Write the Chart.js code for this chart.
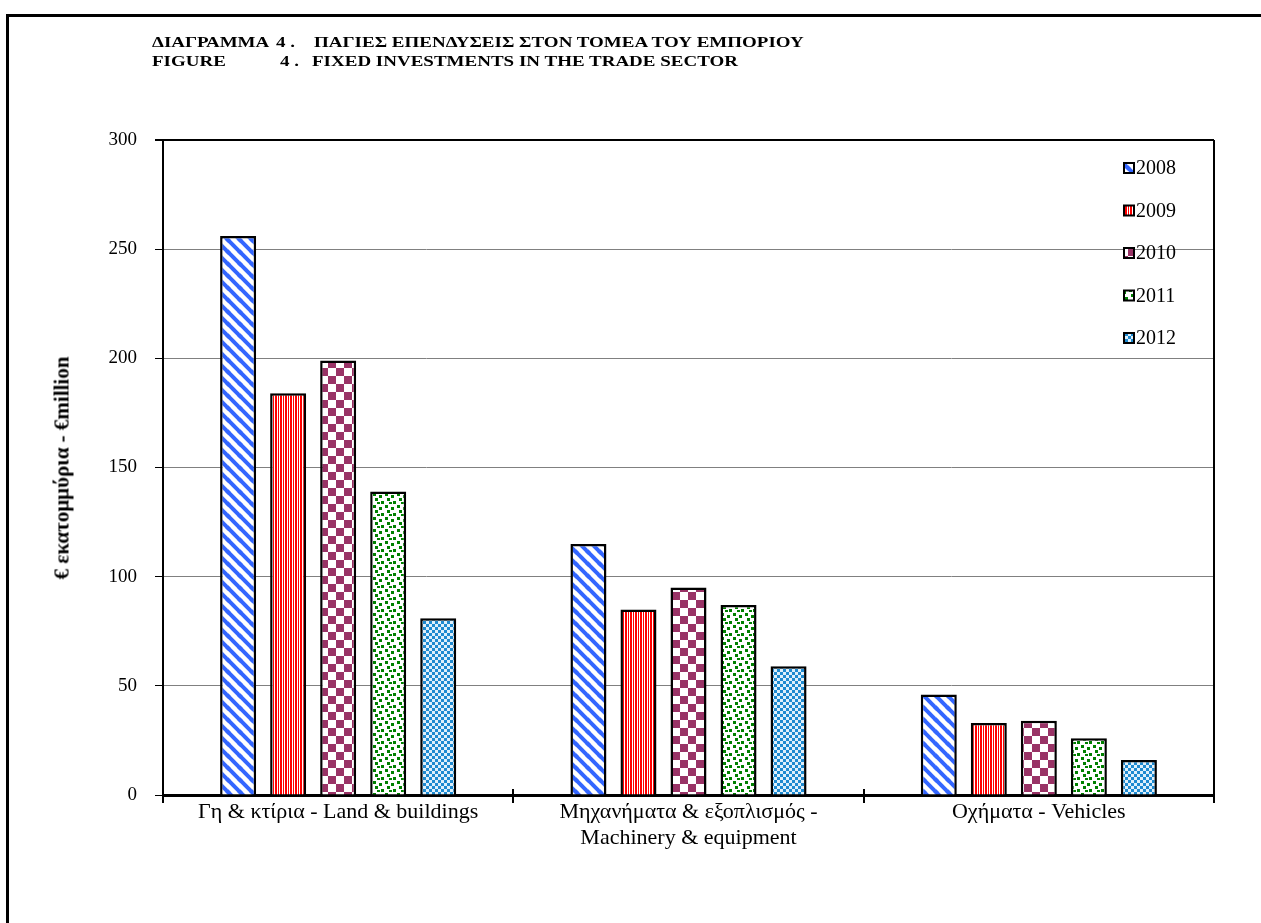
<!DOCTYPE html>
<html>
<head>
<meta charset="utf-8">
<script src="https://cdn.jsdelivr.net/npm/chart.js@4"></script>
<style>
  body { margin: 0; background: #fff; }
  #wrap { position: relative; width: 1261px; height: 923px; overflow: hidden; }
  #frame { position: absolute; left: 6px; top: 14px; width: 1300px; height: 1000px; border: 3px solid #000; box-sizing: border-box; }
  canvas { position: absolute; left: 0; top: 0; }
  .t { position: absolute; font: bold 19px "Liberation Serif", serif; color: #000; white-space: pre;
       transform: scaleY(0.82); transform-origin: left top; }
  #ytitle { position: absolute; left: 62px; top: 468px; transform: translate(-50%, -50%) rotate(-90deg);
            font: bold 21px "Liberation Serif", serif; white-space: nowrap; }
</style>
</head>
<body>
<div id="wrap">
  <div id="frame"></div>
  <canvas id="chart" width="1261" height="923"></canvas>
  <div class="t" style="left:152px;top:33px">ΔΙΑΓΡΑΜΜΑ</div>
  <div class="t" style="left:276px;top:33px">4 .</div>
  <div class="t" style="left:314px;top:33px">ΠΑΓΙΕΣ ΕΠΕΝΔΥΣΕΙΣ ΣΤΟΝ ΤΟΜΕΑ ΤΟΥ ΕΜΠΟΡΙΟΥ</div>
  <div class="t" style="left:152px;top:52px">FIGURE</div>
  <div class="t" style="left:280px;top:52px">4 .</div>
  <div class="t" style="left:312px;top:52px">FIXED INVESTMENTS IN THE TRADE SECTOR</div>
  <div id="ytitle">€ εκατομμύρια - €million</div>
</div>
<script>
const categories = [
    'Γη & κτίρια - Land & buildings',
    ['Μηχανήματα & εξοπλισμός -', 'Machinery & equipment'],
    'Οχήματα - Vehicles'
];
const years = ['2008', '2009', '2010', '2011', '2012'];
const v2008 = [256, 115, 46];
const v2009 = [184, 85, 33];
const v2010 = [199, 95, 34];
const v2011 = [139, 87, 26];
const v2012 = [81, 59, 16];
const yTicks = [0, 50, 100, 150, 200, 250, 300];

const canvas = document.getElementById('chart');
const ctx = canvas.getContext('2d');

function tile(w, h, draw) {
    const c = document.createElement('canvas');
    c.width = w; c.height = h;
    const g = c.getContext('2d');
    g.fillStyle = '#fff';
    g.fillRect(0, 0, w, h);
    draw(g, w, h);
    return ctx.createPattern(c, 'repeat');
}

// blue "\" stripes
const pat2008 = tile(12, 12, (g) => {
    g.strokeStyle = '#3366ff';
    g.lineWidth = 4;
    [[-12, 0], [0, 0], [12, 0], [0, -12], [0, 12]].forEach(([dx, dy]) => {
        g.beginPath();
        g.moveTo(dx - 2, dy - 2);
        g.lineTo(dx + 14, dy + 14);
        g.stroke();
    });
});
// red thin vertical lines
const pat2009 = tile(5, 1, (g) => {
    g.fillStyle = '#ff0000';
    g.fillRect(0, 0, 2, 1);
    g.fillRect(3, 0, 1, 1);
});
// maroon checker
const pat2010 = tile(16, 16, (g) => {
    g.fillStyle = '#993366';
    g.fillRect(0, 0, 8, 8);
    g.fillRect(8, 8, 8, 8);
});
// green confetti
const pat2011 = tile(12, 12, (g) => {
    g.fillStyle = '#008000';
    [[1, 1], [7, 3], [3, 6], [9, 9], [5, 10]].forEach(([x, y]) => g.fillRect(x, y, 3, 3));
});
// small blue checker
const pat2012 = tile(6, 6, (g) => {
    g.fillStyle = '#dff0fb';
    g.fillRect(0, 0, 6, 6);
    g.fillStyle = '#1e8ad0';
    g.fillRect(0, 0, 3, 3);
    g.fillRect(3, 3, 3, 3);
});

const series = [v2008, v2009, v2010, v2011, v2012];
const patterns = [pat2008, pat2009, pat2010, pat2011, pat2012];

const frame = {
    id: 'frame',
    afterDraw(chart) {
        const { ctx, chartArea: a } = chart;
        ctx.save();
        ctx.strokeStyle = '#000';
        ctx.lineWidth = 2;
        ctx.beginPath();
        ctx.moveTo(a.right, a.top);
        ctx.lineTo(a.right, a.bottom);
        ctx.stroke();
        // cross ticks above the x axis
        const step = (a.right - a.left) / categories.length;
        for (let i = 0; i <= categories.length; i++) {
            const px = Math.round(a.left + i * step);
            ctx.beginPath();
            ctx.moveTo(px, a.bottom - 6);
            ctx.lineTo(px, a.bottom);
            ctx.stroke();
        }
        // legend
        ctx.font = '20px "Liberation Serif", serif';
        ctx.textBaseline = 'middle';
        chart.data.datasets.forEach((ds, i) => {
            const ly = 168 + i * 42.5;
            ctx.fillStyle = ds.backgroundColor;
            ctx.fillRect(1124, ly - 5, 10, 10);
            ctx.lineWidth = 2;
            ctx.strokeRect(1124, ly - 5, 10, 10);
            ctx.fillStyle = '#000';
            ctx.fillText(ds.label, 1136, ly + 1);
        });
        ctx.restore();
    }
};

new Chart(ctx, {
    type: 'bar',
    data: {
        labels: categories,
        datasets: years.map((y, i) => ({
            label: y,
            data: series[i],
            backgroundColor: patterns[i],
            borderColor: '#000',
            borderWidth: 2.5,
            borderSkipped: 'bottom',
            categoryPercentage: 0.714,
            barPercentage: 0.72
        }))
    },
    options: {
        responsive: false,
        animation: false,
        layout: { padding: { top: 140, right: 47, left: 0, bottom: 0 } },
        plugins: { legend: { display: false }, tooltip: { enabled: false } },
        scales: {
            x: {
                afterFit: (s) => { s.height = 128; },
                grid: { offset: true, drawOnChartArea: false, drawTicks: true, tickLength: 8, tickColor: '#000', lineWidth: 2 },
                border: { color: '#000', width: 3 },
                ticks: {
                    color: '#000',
                    padding: -3,
                    maxRotation: 0,
                    autoSkip: false,
                    font: { family: '"Liberation Serif", serif', size: 22, lineHeight: 1.15 }
                }
            },
            y: {
                min: 0,
                max: 300,
                afterFit: (s) => { s.width = 163; },
                afterBuildTicks: (s) => { s.ticks = yTicks.map(v => ({ value: v })); },
                grid: {
                    color: (c) => (c.tick.value === 300 || c.tick.value === 0) ? '#000' : '#808080',
                    lineWidth: (c) => c.tick.value === 300 ? 2 : 1,
                    tickColor: '#000',
                    tickLength: 8
                },
                border: { color: '#000', width: 2 },
                ticks: {
                    color: '#000',
                    padding: 18,
                    font: { family: '"Liberation Serif", serif', size: 19 }
                }
            }
        }
    },
    plugins: [frame]
});
</script>
</body>
</html>
